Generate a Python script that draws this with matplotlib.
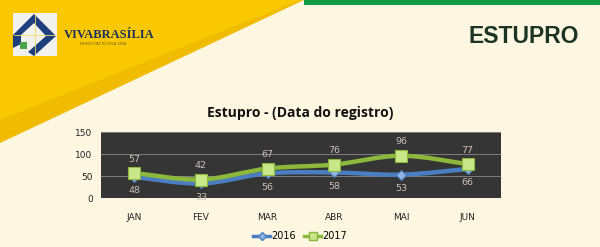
import matplotlib

matplotlib.use("Agg")
import matplotlib.pyplot as plt
from matplotlib.path import Path
from matplotlib.patches import PathPatch, Polygon, Rectangle
from matplotlib.lines import Line2D

months = ["JAN", "FEV", "MAR", "ABR", "MAI", "JUN"]
y2016 = [48, 33, 56, 58, 53, 66]
y2017 = [57, 42, 67, 76, 96, 77]
yticks = [0, 50, 100, 150]

BG = "#FDF7E2"
PLOT_BG = "#353535"
BLUE = "#4A7EC0"
BLUE_MK = "#8FB4E3"
GREEN = "#8CB83C"
GREEN_MK = "#C8E68A"
LABEL = "#CDBFB8"
DARKGREEN = "#1C3424"

W, H = 600, 247


def px(x, y):
    # pixel coords (top-left origin) -> figure fraction
    return x / W, 1 - y / H


def smooth_path(xs, ys, t=0.5 / 3):
    # Catmull-Rom style bezier through the points (Excel "smoothed line")
    verts = [(xs[0], ys[0])]
    codes = [Path.MOVETO]
    n = len(xs)
    for i in range(n - 1):
        x0, y0 = (xs[i - 1], ys[i - 1]) if i > 0 else (xs[i], ys[i])
        x1, y1 = xs[i], ys[i]
        x2, y2 = xs[i + 1], ys[i + 1]
        x3, y3 = (xs[i + 2], ys[i + 2]) if i + 2 < n else (x2, y2)
        c1 = (x1 + (x2 - x0) * t, y1 + (y2 - y0) * t)
        c2 = (x2 - (x3 - x1) * t, y2 - (y3 - y1) * t)
        verts += [c1, c2, (x2, y2)]
        codes += [Path.CURVE4] * 3
    return Path(verts, codes)


fig = plt.figure(figsize=(6, 2.47), dpi=100)
fig.patch.set_facecolor(BG)

# ── header decoration ─────────────────────────────────────────────
bg = fig.add_axes([0, 0, 1, 1], zorder=0)
bg.set_xlim(0, W)
bg.set_ylim(H, 0)
bg.axis("off")
bg.add_patch(Polygon([(0, 0), (304, 0), (0, 143)], closed=True, color="#F0BB00", lw=0))
bg.add_patch(Polygon([(0, 0), (300, 0), (0, 120)], closed=True, color="#F9C800", lw=0))
bg.add_patch(Rectangle((304, 0), 296, 5, color="#0F9A48", lw=0))
# logo
bg.add_patch(Rectangle((13, 13), 44, 43, color="#F1F1EE", lw=0))
bg.plot([35, 35], [14, 55], color="#F3DC6A", lw=0.6)
bg.plot([14, 56], [35, 35], color="#F3DC6A", lw=0.6)
bg.add_patch(Polygon([(13, 35), (34, 14), (56, 36), (34, 56), (28, 52), (46, 36),
                      (34, 23), (21, 35), (21, 44), (13, 48)], closed=True,
                     color="#1E3F7D", lw=0))
bg.add_patch(Rectangle((20, 42), 7, 7, color="#4CA44A", lw=0))
bg.text(64, 38, "VIVABRASÍLIA", fontsize=9, fontweight="bold", family="Liberation Serif",
        color="#1B2F5E", va="baseline")
bg.text(80, 44, "NOSSO PACTO PELA VIDA", fontsize=2.6, color="#6A5A20", va="center")

fig.text(*px(524, 36), "ESTUPRO", fontsize=16.5, fontweight="bold",
         family="Liberation Sans", color=DARKGREEN, ha="center", va="center")
fig.text(*px(300, 113), "Estupro - (Data do registro)", fontsize=10, fontweight="bold",
         family="Open Sans", color="#111111", ha="center", va="center")

# ── chart ─────────────────────────────────────────────────────────
l, b = px(101, 198)
ax = fig.add_axes([l, b, 400 / W, 66 / H], zorder=2)
ax.set_facecolor(PLOT_BG)
x = list(range(len(months)))
ax.set_xlim(-0.5, len(months) - 0.5)
ax.set_ylim(0, 150)
ax.set_yticks(yticks)
ax.set_yticklabels([str(v) for v in yticks])
ax.set_xticks(x)
ax.set_xticklabels(months)
ax.tick_params(length=0, labelsize=6.5, colors="#222222")
ax.tick_params(axis="x", pad=11)
ax.tick_params(axis="y", pad=6)
for v in yticks[1:]:
    ax.axhline(v, color="#8A8A8A", lw=0.6, zorder=1)
for s in ax.spines.values():
    s.set_visible(False)

for ys, col, mk, mcol, ms, dy in [
    (y2016, BLUE, "D", BLUE_MK, 5, -10),
    (y2017, GREEN, "s", GREEN_MK, 8, 10),
]:
    ax.add_patch(PathPatch(smooth_path(x, ys), fill=False, edgecolor=col, lw=3.2,
                           capstyle="round", zorder=3))
    ax.plot(x, ys, ls="none", marker=mk, ms=ms, mfc=mcol, mec=col, mew=0.8, zorder=4)
    for xi, yi in zip(x, ys):
        ax.annotate(str(yi), (xi, yi), xytext=(0, dy), textcoords="offset points",
                    ha="center", va="center", fontsize=6.8, color=LABEL, zorder=5)

handles = [
    Line2D([], [], color=BLUE, lw=2.5, marker="D", ms=4, mfc=BLUE_MK, mec=BLUE),
    Line2D([], [], color=GREEN, lw=2.5, marker="s", ms=6, mfc=GREEN_MK, mec=GREEN),
]
fig.legend(handles, ["2016", "2017"], loc="center", bbox_to_anchor=px(300, 236),
           ncol=2, frameon=False, fontsize=7, handlelength=1.8, handletextpad=0.1,
           columnspacing=0.8)

fig.savefig("out.png", dpi=100, facecolor=BG)
